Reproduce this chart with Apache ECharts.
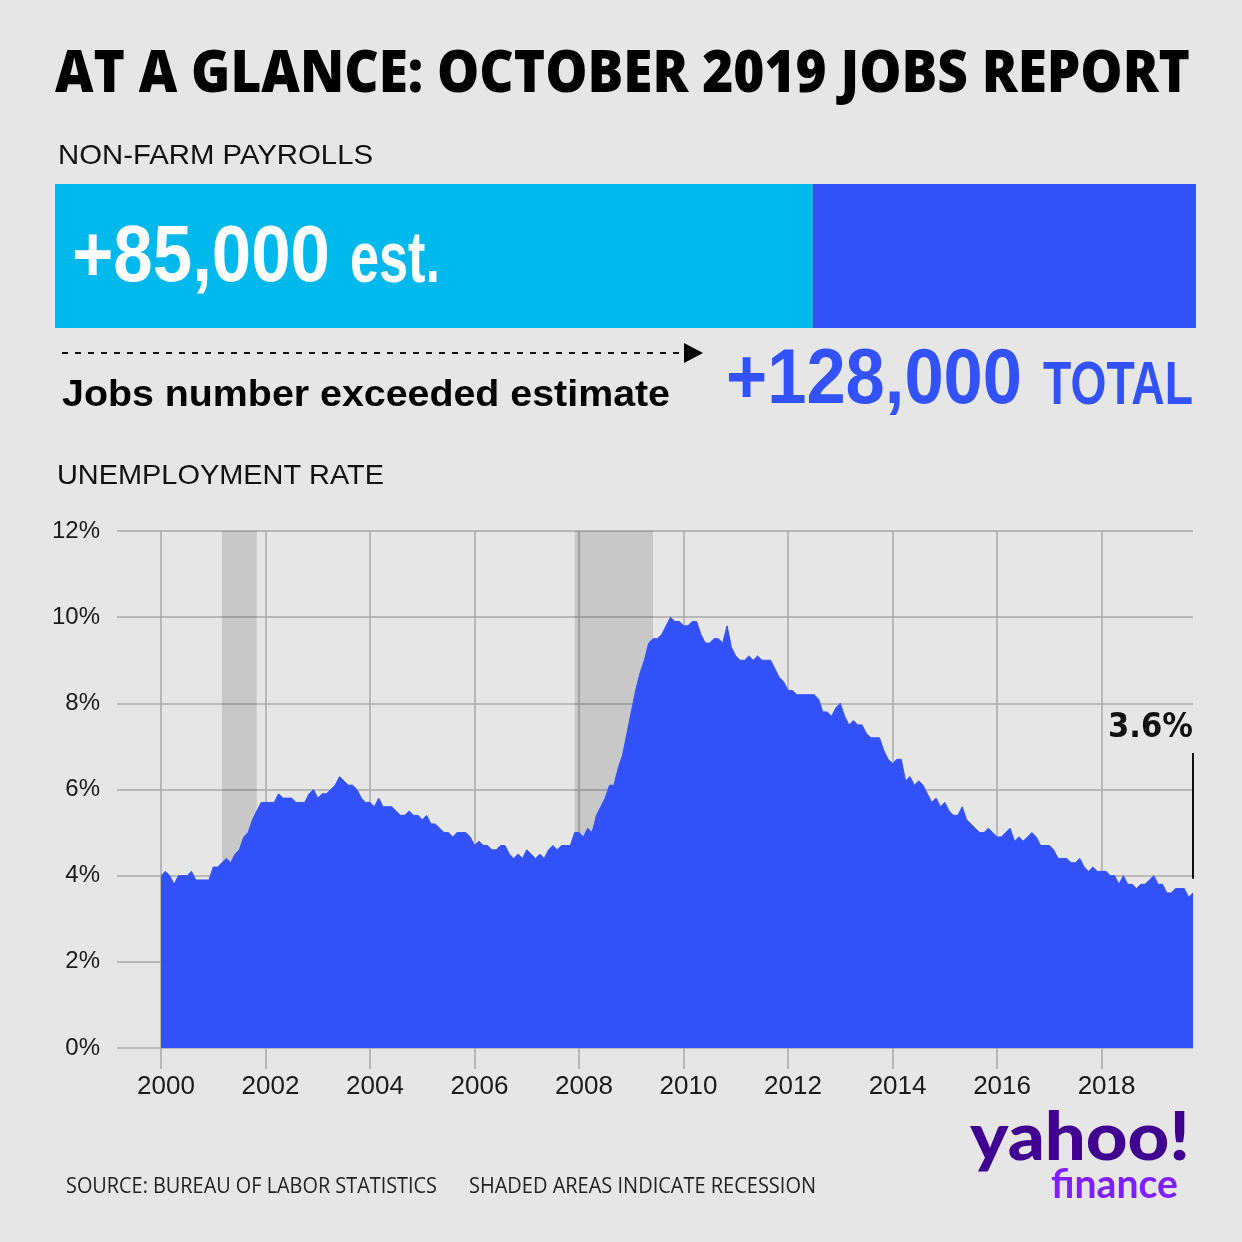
<!DOCTYPE html>
<html>
<head>
<meta charset="utf-8">
<script src="https://cdn.jsdelivr.net/npm/echarts@6/dist/echarts.min.js"></script>
<style>
  html, body { margin: 0; padding: 0; background: #e6e6e6; }
  #chart { width: 1242px; height: 1242px; }
</style>
</head>
<body>
<div id="chart"></div>
<script>
// ---------------- DATA ----------------
const titleText = 'AT A GLANCE: OCTOBER 2019 JOBS REPORT';
const payrollLabel = 'NON-FARM PAYROLLS';
const rateLabel = 'UNEMPLOYMENT RATE';
const payrollEstimate = 85000;
const payrollActual = 128000;
const exceededText = 'Jobs number exceeded estimate';
const sourceText = 'SOURCE: BUREAU OF LABOR STATISTICS';
const shadedText = 'SHADED AREAS INDICATE RECESSION';

const startYear = 2000;   // first monthly value = Jan 2000
const unemployment = [
  4.0,4.1,4.0,3.8,4.0,4.0,4.0,4.1,3.9,3.9,3.9,3.9,   // 2000
  4.2,4.2,4.3,4.4,4.3,4.5,4.6,4.9,5.0,5.3,5.5,5.7,   // 2001
  5.7,5.7,5.7,5.9,5.8,5.8,5.8,5.7,5.7,5.7,5.9,6.0,   // 2002
  5.8,5.9,5.9,6.0,6.1,6.3,6.2,6.1,6.1,6.0,5.8,5.7,   // 2003
  5.7,5.6,5.8,5.6,5.6,5.6,5.5,5.4,5.4,5.5,5.4,5.4,   // 2004
  5.3,5.4,5.2,5.2,5.1,5.0,5.0,4.9,5.0,5.0,5.0,4.9,   // 2005
  4.7,4.8,4.7,4.7,4.6,4.6,4.7,4.7,4.5,4.4,4.5,4.4,   // 2006
  4.6,4.5,4.4,4.5,4.4,4.6,4.7,4.6,4.7,4.7,4.7,5.0,   // 2007
  5.0,4.9,5.1,5.0,5.4,5.6,5.8,6.1,6.1,6.5,6.8,7.3,   // 2008
  7.8,8.3,8.7,9.0,9.4,9.5,9.5,9.6,9.8,10.0,9.9,9.9,  // 2009
  9.8,9.8,9.9,9.9,9.6,9.4,9.4,9.5,9.5,9.4,9.8,9.3,   // 2010
  9.1,9.0,9.0,9.1,9.0,9.1,9.0,9.0,9.0,8.8,8.6,8.5,   // 2011
  8.3,8.3,8.2,8.2,8.2,8.2,8.2,8.1,7.8,7.8,7.7,7.9,   // 2012
  8.0,7.7,7.5,7.6,7.5,7.5,7.3,7.2,7.2,7.2,6.9,6.7,   // 2013
  6.6,6.7,6.7,6.2,6.3,6.1,6.2,6.1,5.9,5.7,5.8,5.6,   // 2014
  5.7,5.5,5.4,5.4,5.6,5.3,5.2,5.1,5.0,5.0,5.1,5.0,   // 2015
  4.9,4.9,5.0,5.1,4.8,4.9,4.8,4.9,5.0,4.9,4.7,4.7,   // 2016
  4.7,4.6,4.4,4.4,4.4,4.3,4.3,4.4,4.2,4.1,4.2,4.1,   // 2017
  4.1,4.1,4.0,4.0,3.8,4.0,3.8,3.8,3.7,3.8,3.8,3.9,   // 2018
  4.0,3.8,3.8,3.6,3.6,3.7,3.7,3.7,3.5,3.6            // 2019 (Jan-Oct)
];
const yearTicks = [2000, 2002, 2004, 2006, 2008, 2010, 2012, 2014, 2016, 2018];
const recessions = [
  { start: [2001, 3], end: [2001, 11] },
  { start: [2007, 12], end: [2009, 6] }
];

// ---------------- HELPERS ----------------
const ctx = document.createElement('canvas').getContext('2d');
function measure(text, weight, family, size) {
  ctx.font = weight + ' ' + size + 'px ' + family;
  return ctx.measureText(text).width;
}
function fitSize(text, weight, family, targetWidth, maxSize) {
  return Math.min(maxSize, maxSize * targetWidth / measure(text, weight, family, maxSize));
}
const toYear = (y, m) => y + (m - 1) / 12;

const HEL = '"Liberation Sans", Arial, Helvetica, sans-serif';
const COND = '"DejaVu Sans Condensed", "Liberation Sans Narrow", sans-serif';
const OPEN = '"Open Sans", "Noto Sans", sans-serif';
const LOGO = '"Lato", "Open Sans", sans-serif';

const series = unemployment.map((v, i) => [startYear + i / 12, v]);
const lastPoint = series[series.length - 1];
const lastValue = lastPoint[1];

const CYAN = '#00b9ec';
const BLUE = '#3251f8';

const fmt = n => '+' + n.toLocaleString('en-US');

// text element; if width is given, the text is squeezed horizontally to that width
function txt(text, x, y, size, weight, family, fill, align, width) {
  let sx = 1;
  if (width) sx = width / measure(text, weight, family, size);
  return {
    type: 'text', x: x, y: y, scaleX: sx, silent: true, z: 100,
    style: {
      text: text, fontSize: size, fontWeight: weight, fontFamily: family, fill: fill,
      align: align || 'left', verticalAlign: 'middle',
      textAlign: align || 'left', textVerticalAlign: 'middle'
    }
  };
}

const lastLabelSize = fitSize(lastValue + '%', '700', COND, 85, 46);

// ---------------- CHART ----------------
const chart = echarts.init(document.getElementById('chart'), null, { renderer: 'canvas' });

const option = {
  backgroundColor: '#e6e6e6',
  animation: false,
  grid: [
    { left: 55, right: 46, top: 184, height: 144, containLabel: false },
    { left: 117, right: 49, top: 531, bottom: 194, containLabel: false }
  ],
  xAxis: [
    { gridIndex: 0, type: 'value', min: 0, max: payrollActual, show: false },
    {
      gridIndex: 1, type: 'value',
      min: startYear - 44 / 52.25, max: lastPoint[0],
      axisLine: { show: false },
      axisTick: { show: true, customValues: yearTicks, length: 21, lineStyle: { color: '#a8a8a8', width: 1.5 } },
      axisLabel: {
        show: true, customValues: yearTicks, margin: 26, color: '#1a1a1a',
        fontSize: 26, fontFamily: HEL, padding: [0, 0, 0, 10],
        formatter: v => String(Math.round(v))
      },
      splitLine: { show: true, lineStyle: { color: '#a8a8a8', width: 1.5 } }
    }
  ],
  yAxis: [
    { gridIndex: 0, type: 'category', data: ['payrolls'], show: false },
    {
      gridIndex: 1, type: 'value', min: 0, max: 12, interval: 2,
      axisLine: { show: false }, axisTick: { show: false },
      axisLabel: { margin: 17, color: '#1a1a1a', fontSize: 24, fontFamily: HEL, formatter: '{value}%' },
      splitLine: { show: true, lineStyle: { color: '#a8a8a8', width: 1.5 } }
    }
  ],
  series: [
    {
      name: 'Estimate', type: 'bar', xAxisIndex: 0, yAxisIndex: 0, stack: 'nfp',
      barWidth: '100%', data: [payrollEstimate], itemStyle: { color: CYAN },
      silent: true
    },
    {
      name: 'Beat', type: 'bar', xAxisIndex: 0, yAxisIndex: 0, stack: 'nfp',
      barWidth: '100%', data: [payrollActual - payrollEstimate], itemStyle: { color: BLUE },
      silent: true
    },
    {
      name: 'Unemployment rate', type: 'line', xAxisIndex: 1, yAxisIndex: 1,
      data: series, symbol: 'none', smooth: false,
      lineStyle: { color: BLUE, width: 1 },
      areaStyle: { color: BLUE, opacity: 1 },
      silent: true,
      markArea: {
        silent: true,
        itemStyle: { color: 'rgba(0,0,0,0.13)' },
        data: recessions.map(r => [{ xAxis: toYear(r.start[0], r.start[1]) }, { xAxis: toYear(r.end[0], r.end[1]) }])
      },
      markLine: {
        silent: true, symbol: ['none', 'none'],
        lineStyle: { color: '#111', width: 2, type: 'solid' },
        label: { show: false },
        data: [[{ coord: [lastPoint[0], lastValue + 0.33] }, { coord: [lastPoint[0], 6.85] }]]
      },
      markPoint: {
        silent: true, symbol: 'circle', symbolSize: 0,
        data: [{ coord: [lastPoint[0], 7.43], value: lastValue }],
        label: {
          show: true, position: 'left', distance: 0,
          formatter: p => p.value + '%',
          color: '#111', fontSize: lastLabelSize, fontWeight: 700, fontFamily: COND
        }
      }
    }
  ],
  graphic: [
    txt(titleText, 55, 75, 59, 800, OPEN, '#000', 'left', 1135),
    txt(payrollLabel, 58, 156, 28, 400, HEL, '#111', 'left', 315),
    txt(fmt(payrollEstimate), 72, 259, 80, 700, HEL, '#fff', 'left', 258),
    txt('est.', 350, 262, 72, 700, HEL, '#fff', 'left', 90),
    {
      type: 'line', silent: true, z: 100,
      shape: { x1: 62, y1: 353, x2: 684, y2: 353 },
      style: { stroke: '#111', lineWidth: 2, lineDash: [6, 7] }
    },
    {
      type: 'polygon', silent: true, z: 100,
      shape: { points: [[684, 343], [703, 353], [684, 363]] },
      style: { fill: '#000' }
    },
    txt(exceededText, 62, 396, 37, 700, HEL, '#000', 'left', 608),
    txt(fmt(payrollActual), 726, 381, 78, 700, HEL, BLUE, 'left', 296),
    txt('TOTAL', 1193, 387, 61, 700, HEL, BLUE, 'right', 150),
    txt(rateLabel, 57, 476, 28, 400, HEL, '#111', 'left', 327),
    txt(sourceText, 66, 1187, 21, 400, OPEN, '#222', 'left', 371),
    txt(shadedText, 469, 1187, 21, 400, OPEN, '#222', 'left', 347),
    txt('yahoo!', 1190, 1139, 66, 900, LOGO, '#400090', 'right', 220),
    txt('finance', 1178, 1185, 40, 700, LOGO, '#7e1fff', 'right', 127)
  ]
};
chart.setOption(option);
</script>
</body>
</html>
